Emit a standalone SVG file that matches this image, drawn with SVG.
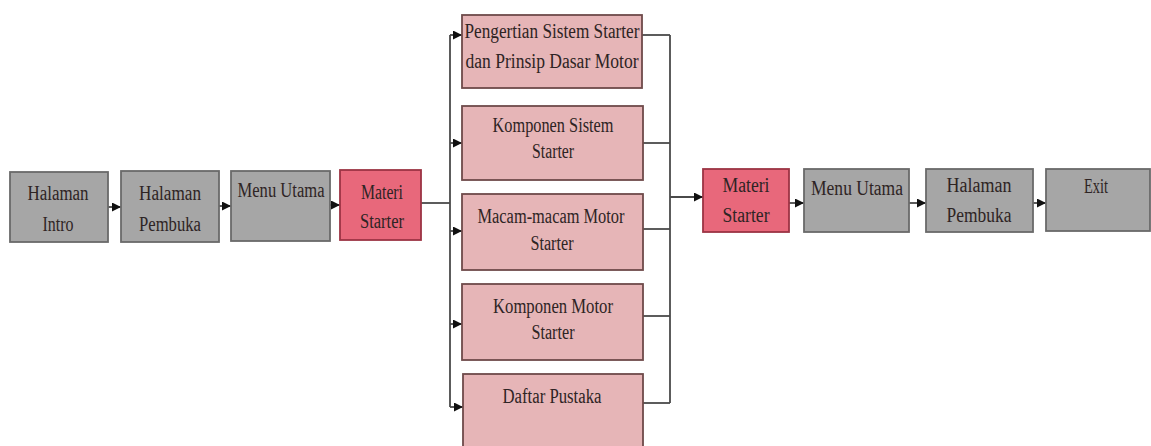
<svg xmlns="http://www.w3.org/2000/svg" width="1151" height="446" viewBox="0 0 1151 446">
<style>
.grey{fill:#a6a6a6;stroke:#6a6a6a;stroke-width:1.8}
.hot{fill:#e8687b;stroke:#9c3444;stroke-width:1.8}
.pink{fill:#e6b5b7;stroke:#6e4a4a;stroke-width:1.8}
text{font-family:"Liberation Serif","Times New Roman",serif;font-size:20px;text-anchor:middle;fill:#2e2424}
.conn line{stroke:#4a4a4a;stroke-width:1.8;fill:none}
</style>
<defs>
<marker id="ah" viewBox="0 0 10 10" refX="10" refY="5" markerWidth="9" markerHeight="9" markerUnits="userSpaceOnUse" orient="auto">
<path d="M0,0 L10,5 L0,10 z" fill="#111"/>
</marker>
</defs>
<rect width="1151" height="446" fill="#ffffff"/>
<g class="conn">
<line x1="108" y1="207" x2="121" y2="207" marker-end="url(#ah)"/>
<line x1="219" y1="206" x2="231" y2="206" marker-end="url(#ah)"/>
<line x1="330" y1="205" x2="340" y2="205" marker-end="url(#ah)"/>
<line x1="421" y1="203" x2="450" y2="203"/>
<line x1="450" y1="35" x2="450" y2="407"/>
<line x1="450" y1="35" x2="462" y2="35" marker-end="url(#ah)"/>
<line x1="450" y1="143" x2="462" y2="143" marker-end="url(#ah)"/>
<line x1="450" y1="231" x2="462" y2="231" marker-end="url(#ah)"/>
<line x1="450" y1="324" x2="462" y2="324" marker-end="url(#ah)"/>
<line x1="450" y1="407" x2="463" y2="407" marker-end="url(#ah)"/>
<line x1="642" y1="35" x2="670" y2="35"/>
<line x1="643" y1="143" x2="670" y2="143"/>
<line x1="643" y1="229" x2="670" y2="229"/>
<line x1="643" y1="316" x2="670" y2="316"/>
<line x1="643" y1="403" x2="670" y2="403"/>
<line x1="670" y1="35" x2="670" y2="403"/>
<line x1="670" y1="197" x2="703" y2="197" marker-end="url(#ah)"/>
<line x1="789" y1="203" x2="804" y2="203" marker-end="url(#ah)"/>
<line x1="909" y1="203" x2="926" y2="203" marker-end="url(#ah)"/>
<line x1="1033" y1="203" x2="1046" y2="203" marker-end="url(#ah)"/>
</g>
<g id="halaman-intro">
<rect class="grey" x="10" y="172" width="98" height="70"/>
<text x="58" y="200" textLength="61" lengthAdjust="spacingAndGlyphs">Halaman</text>
<text x="58" y="231" textLength="31" lengthAdjust="spacingAndGlyphs">Intro</text>
</g>
<g id="halaman-pembuka">
<rect class="grey" x="121" y="171" width="98" height="71"/>
<text x="170" y="200" textLength="62" lengthAdjust="spacingAndGlyphs">Halaman</text>
<text x="170" y="231" textLength="62" lengthAdjust="spacingAndGlyphs">Pembuka</text>
</g>
<g id="menu-utama">
<rect class="grey" x="231" y="171" width="99" height="70"/>
<text x="281" y="197" textLength="87" lengthAdjust="spacingAndGlyphs">Menu Utama</text>
</g>
<g id="materi-starter">
<rect class="hot" x="340" y="170" width="81" height="70"/>
<text x="382" y="199" textLength="42" lengthAdjust="spacingAndGlyphs">Materi</text>
<text x="382" y="228" textLength="44" lengthAdjust="spacingAndGlyphs">Starter</text>
</g>
<g id="pengertian">
<rect class="pink" x="462" y="15" width="180" height="73"/>
<text x="552" y="38" textLength="175" lengthAdjust="spacingAndGlyphs">Pengertian Sistem Starter</text>
<text x="552" y="68" textLength="173" lengthAdjust="spacingAndGlyphs">dan Prinsip Dasar Motor</text>
</g>
<g id="komponen-sistem">
<rect class="pink" x="462" y="106" width="181" height="74"/>
<text x="553" y="132" textLength="121" lengthAdjust="spacingAndGlyphs">Komponen Sistem</text>
<text x="553" y="158" textLength="42" lengthAdjust="spacingAndGlyphs">Starter</text>
</g>
<g id="macam-motor">
<rect class="pink" x="462" y="194" width="181" height="76"/>
<text x="551" y="223" textLength="147" lengthAdjust="spacingAndGlyphs">Macam-macam Motor</text>
<text x="552" y="250" textLength="43" lengthAdjust="spacingAndGlyphs">Starter</text>
</g>
<g id="komponen-motor">
<rect class="pink" x="462" y="284" width="181" height="76"/>
<text x="553" y="313" textLength="120" lengthAdjust="spacingAndGlyphs">Komponen Motor</text>
<text x="553" y="339" textLength="43" lengthAdjust="spacingAndGlyphs">Starter</text>
</g>
<g id="daftar-pustaka">
<rect class="pink" x="463" y="374" width="180" height="74"/>
<text x="552" y="403" textLength="99" lengthAdjust="spacingAndGlyphs">Daftar Pustaka</text>
</g>
<g id="materi-starter-2">
<rect class="hot" x="703" y="169" width="86" height="63"/>
<text x="746" y="192" textLength="47" lengthAdjust="spacingAndGlyphs">Materi</text>
<text x="746" y="222" textLength="47" lengthAdjust="spacingAndGlyphs">Starter</text>
</g>
<g id="menu-utama-2">
<rect class="grey" x="804" y="169" width="105" height="63"/>
<text x="857" y="195" textLength="92" lengthAdjust="spacingAndGlyphs">Menu Utama</text>
</g>
<g id="halaman-pembuka-2">
<rect class="grey" x="926" y="169" width="107" height="63"/>
<text x="979" y="192" textLength="65" lengthAdjust="spacingAndGlyphs">Halaman</text>
<text x="979" y="222" textLength="65" lengthAdjust="spacingAndGlyphs">Pembuka</text>
</g>
<g id="exit">
<rect class="grey" x="1046" y="169" width="104" height="62"/>
<text x="1096" y="193" textLength="24" lengthAdjust="spacingAndGlyphs">Exit</text>
</g>
</svg>
